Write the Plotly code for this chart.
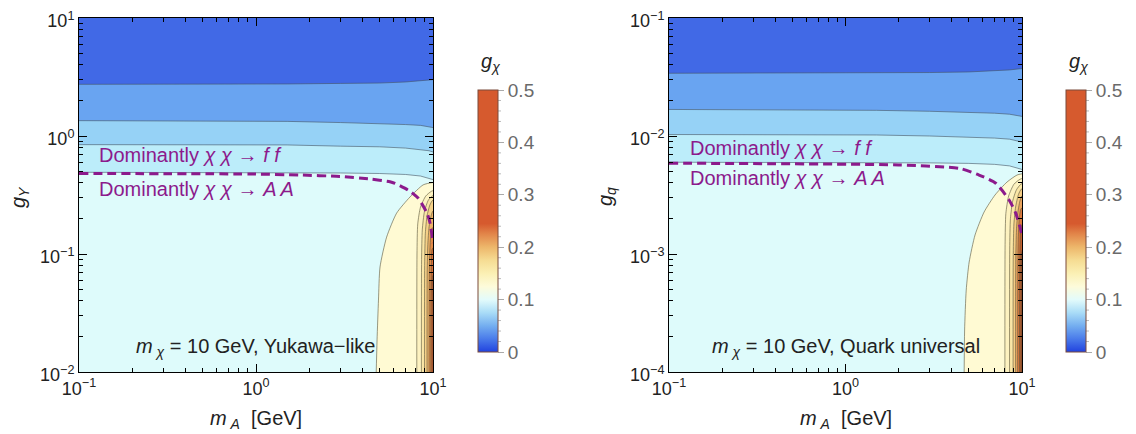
import plotly.graph_objects as go

# ---------------- data ----------------
# contour-band boundaries (horizontal bands), shared m_A samples
mA_band = [0.09, 0.5, 1.5, 3, 5, 7, 8.5, 9.5, 11]
# left panel (g_Y) boundaries, from top band downwards
gY_b1 = [2.74, 2.74, 2.76, 2.79, 2.81, 2.87, 2.93, 2.98, 3.04]
gY_b2 = [1.35, 1.34, 1.33, 1.30, 1.28, 1.25, 1.23, 1.19, 1.15]
gY_b3 = [0.845, 0.845, 0.84, 0.82, 0.81, 0.79, 0.77, 0.75, 0.70]
gY_b4 = [0.493, 0.493, 0.49, 0.486, 0.481, 0.472, 0.458, 0.44, 0.41]
# right panel (g_q) boundaries
gq_b1 = [0.0340, 0.0340, 0.0342, 0.0345, 0.0349, 0.0356, 0.0363, 0.0370, 0.0377]
gq_b2 = [0.0168, 0.0167, 0.0165, 0.0162, 0.0159, 0.0156, 0.0153, 0.0148, 0.0143]
gq_b3 = [0.0103, 0.0103, 0.0102, 0.0100, 0.0098, 0.0096, 0.0094, 0.0091, 0.0086]
gq_b4 = [0.0060, 0.0060, 0.00598, 0.00592, 0.00586, 0.00575, 0.00558, 0.00536, 0.0050]
band_colors = ["#BCEDFA", "#96D2F6", "#69A4F1", "#4169E6"]  # above b4, b3, b2, b1

# arch-shaped contours near m_A -> m_chi
L_arch_x = [
    [4.77, 4.83, 4.92, 5.02, 5.47, 6.23, 7.41, 8.79, 9.83, 10.5],
    [8.1, 8.12, 8.2, 8.5, 9.1, 9.8, 10.5],
    [8.6, 8.62, 8.7, 8.95, 9.4, 9.9, 10.5],
    [8.95, 8.97, 9.05, 9.25, 9.6, 9.95, 10.5],
    [9.25, 9.27, 9.35, 9.5, 9.75, 10.0, 10.5],
    [9.5, 9.52, 9.58, 9.7, 9.88, 10.5],
    [9.72, 9.74, 9.8, 9.9, 10.5],
    [9.88, 9.9, 9.95, 10.5],
]
L_arch_y = [
    [0.009, 0.0187, 0.0407, 0.0776, 0.139, 0.222, 0.304, 0.385, 0.402, 0.40],
    [0.009, 0.1, 0.18, 0.25, 0.31, 0.34, 0.348],
    [0.009, 0.09, 0.16, 0.23, 0.285, 0.31, 0.316],
    [0.009, 0.08, 0.15, 0.21, 0.26, 0.285, 0.29],
    [0.009, 0.07, 0.12, 0.17, 0.21, 0.232, 0.236],
    [0.009, 0.06, 0.1, 0.14, 0.165, 0.175],
    [0.009, 0.05, 0.085, 0.11, 0.12],
    [0.009, 0.04, 0.065, 0.073],
]
R_arch_x = [
    [4.70, 4.73, 4.83, 5.02, 5.42, 6.10, 7.03, 8.22, 9.37, 9.86, 10.5],
    [8.0, 8.02, 8.1, 8.4, 9.0, 9.75, 10.5],
    [8.5, 8.52, 8.6, 8.85, 9.3, 9.85, 10.5],
    [8.9, 8.92, 9.0, 9.2, 9.55, 9.92, 10.5],
    [9.2, 9.22, 9.3, 9.45, 9.72, 9.98, 10.5],
    [9.45, 9.47, 9.53, 9.65, 9.85, 10.5],
    [9.68, 9.7, 9.76, 9.88, 10.5],
    [9.86, 9.88, 9.93, 10.5],
]
R_arch_y = [
    [9e-5, 2.27e-4, 4.95e-4, 8.55e-4, 1.45e-3, 2.27e-3, 3.16e-3, 4.07e-3, 4.67e-3, 4.76e-3, 4.78e-3],
    [9e-5, 0.0012, 0.0022, 0.0031, 0.0039, 0.0043, 0.0044],
    [9e-5, 0.0011, 0.0020, 0.0028, 0.0035, 0.0039, 0.0040],
    [9e-5, 0.0010, 0.0018, 0.0025, 0.0032, 0.00355, 0.00362],
    [9e-5, 0.0009, 0.0016, 0.0022, 0.0028, 0.0031, 0.00316],
    [9e-5, 0.0008, 0.0014, 0.0020, 0.0024, 0.0026],
    [9e-5, 0.0007, 0.0012, 0.0017, 0.00194],
    [9e-5, 0.0005, 0.0010, 0.00132],
]
L_arch_colors = ["#FFFAD3", "#FDF2C0", "#FAE6A6", "#F5D088", "#EEB268", "#E48C48", "#D96C36", "#C9572B"]
R_arch_colors = ["#FFFAD3", "#FDF2C0", "#FAE6A6", "#F4CC84", "#EAA45E", "#DC7A3E", "#C4602F", "#A24E28"]

# dashed separation lines
L_dash_x = [0.1, 0.925, 1.77, 2.98, 4.41, 5.71, 6.10, 7.22, 8.23, 9.25, 9.62, 9.96, 10.0]
L_dash_y = [0.481, 0.476, 0.467, 0.454, 0.432, 0.410, 0.397, 0.348, 0.298, 0.222, 0.183, 0.131, 0.124]
R_dash_x = [0.1, 2.0, 4.41, 5.71, 7.1, 8.45, 9.2, 9.84, 10.0]
R_dash_y = [0.00588, 0.00568, 0.00532, 0.00467, 0.00398, 0.00287, 0.00223, 0.0016, 0.0014]

# colour bar
cbar_max = 0.5
cbar_minor = [0.02, 0.04, 0.06, 0.08, 0.12, 0.14, 0.16, 0.18, 0.22, 0.24, 0.26, 0.28,
              0.32, 0.34, 0.36, 0.38, 0.42, 0.44, 0.46, 0.48]
colorscale = [[0, "#2142DF"], [0.05, "#4A7BEA"], [0.1, "#74AEF0"], [0.15, "#A9DCF7"],
              [0.2, "#E3FBFB"], [0.25, "#FDFBDA"], [0.3, "#FBF0B4"], [0.35, "#F6DC93"],
              [0.4, "#EDB76B"], [0.45, "#E2864A"], [0.49, "#D65A2E"], [1, "#D65A2E"]]

# ---------------- figure ----------------
FONT = "Liberation Sans, Arial, sans-serif"
PURPLE = "#8C1A8C"
LINE = "rgba(70,85,100,0.6)"
ALINE = "rgba(90,85,60,0.6)"
OFF = 8                      # page body margin of the html page
W, H = 1136 - OFF, 434 - OFF
CB_TOP, CB_BOT = 90, 352     # colour-bar extent in window pixels


def px_x(X):  # window pixel -> paper fraction
    return (X - OFF) / W


def px_y(Y):
    return (H - (Y - OFF)) / H


fig = go.Figure()


def add_panel(xa, ya, bands, ytop, arch_x, arch_y, arch_cols, ybot, dx, dy):
    for b, col in zip(bands, band_colors):
        fig.add_trace(go.Scatter(
            x=mA_band + [mA_band[-1], mA_band[0]], y=b + [ytop, ytop],
            fill="toself", fillcolor=col, mode="lines", line=dict(color=LINE, width=1),
            xaxis=xa, yaxis=ya, hoverinfo="skip", showlegend=False))
    for ax_, ay_, col in zip(arch_x, arch_y, arch_cols):
        fig.add_trace(go.Scatter(
            x=ax_ + [ax_[-1]], y=ay_ + [ybot],
            fill="toself", fillcolor=col, mode="lines",
            line=dict(color=ALINE, width=1, shape="spline", smoothing=0.6),
            xaxis=xa, yaxis=ya, hoverinfo="skip", showlegend=False))
    fig.add_trace(go.Scatter(
        x=dx, y=dy, mode="lines",
        line=dict(color=PURPLE, width=3, dash="9px,5px", shape="spline", smoothing=0.6),
        xaxis=xa, yaxis=ya, hoverinfo="skip", showlegend=False))


add_panel("x", "y", [gY_b4, gY_b3, gY_b2, gY_b1], 20, L_arch_x, L_arch_y, L_arch_colors, 0.009,
          L_dash_x, L_dash_y)
add_panel("x2", "y2", [gq_b4, gq_b3, gq_b2, gq_b1], 0.2, R_arch_x, R_arch_y, R_arch_colors, 9e-5,
          R_dash_x, R_dash_y)

cb_common = dict(
    thickness=20, thicknessmode="pixels", len=(CB_BOT - CB_TOP) / H, lenmode="fraction",
    y=px_y(CB_TOP), yanchor="top", xanchor="left", xpad=0, ypad=0,
    tickmode="linear", tick0=0, dtick=0.1, tickformat=".1~f",
    ticks="outside", ticklen=6, tickcolor="#aaaaaa", tickwidth=1,
    tickfont=dict(family=FONT, size=19, color="#6a6a6a"),
    outlinewidth=1, outlinecolor="#7a4a3a",
)
shapes = []
for xa, ya, cbx in [("x", "y", 478), ("x2", "y2", 1066)]:
    fig.add_trace(go.Scatter(
        x=[None], y=[None], mode="markers", xaxis=xa, yaxis=ya,
        marker=dict(color=[0], cmin=0, cmax=cbar_max, colorscale=colorscale, opacity=0,
                    showscale=True, colorbar=dict(x=px_x(cbx), **cb_common)),
        hoverinfo="skip", showlegend=False))
    # minor ticks of the colour bar
    for v in cbar_minor:
        yy = CB_BOT - v / cbar_max * (CB_BOT - CB_TOP)
        shapes.append(dict(type="line", xref="paper", yref="paper",
                           x0=px_x(cbx + 20), x1=px_x(cbx + 23), y0=px_y(yy), y1=px_y(yy),
                           line=dict(color="#bbbbbb", width=1)))

xminor = [k * 10.0 ** e for e in (-1, 0) for k in range(2, 10)]
yminorL = [k * 10.0 ** e for e in (-2, -1, 0) for k in range(2, 10)]
yminorR = [k * 10.0 ** e for e in (-4, -3, -2) for k in range(2, 10)]


def axis(rng, tv, tt, minor_vals, domain, anchor, shift=0):
    return dict(type="log", range=rng, tickmode="array", tickvals=tv, ticktext=tt,
                ticks="inside", ticklen=8, tickcolor="black", tickwidth=1,
                showline=True, linecolor="black", linewidth=1, mirror="ticks",
                showgrid=False, zeroline=False, automargin=False, ticklabeloverflow="allow",
                ticklabelshift=shift,
                domain=domain, anchor=anchor,
                tickfont=dict(family=FONT, size=18, color="#222222"),
                minor=dict(tickmode="array", tickvals=minor_vals, ticks="inside", ticklen=4,
                           tickcolor="black", tickwidth=1, showgrid=False))


ydom = [px_y(372), px_y(18)]
xt = [0.1, 1, 10]
xtt = ["10<sup>−1</sup>", "10<sup>0</sup>", "10<sup>1</sup>"]
fig.update_layout(
    width=W, height=H, autosize=False,
    margin=dict(l=0, r=0, t=0, b=0, pad=0),
    paper_bgcolor="white", plot_bgcolor="#DEFBFB",
    font=dict(family=FONT, color="#222222"),
    xaxis=axis([-1, 1], xt, xtt, xminor, [px_x(79), px_x(433)], "y"),
    yaxis=axis([-2, 1], [0.01, 0.1, 1, 10],
               ["10<sup>−2</sup>", "10<sup>−1</sup>", "10<sup>0</sup>", "10<sup>1</sup>"],
               yminorL, ydom, "x", shift=3),
    xaxis2=axis([-1, 1], xt, xtt, xminor, [px_x(669), px_x(1022)], "y2"),
    yaxis2=axis([-4, -1], [1e-4, 1e-3, 1e-2, 1e-1],
                ["10<sup>−4</sup>", "10<sup>−3</sup>", "10<sup>−2</sup>", "10<sup>−1</sup>"],
                yminorR, ydom, "x2", shift=3),
    shapes=shapes,
)

ann_font = dict(family=FONT, size=20, color="#222222")
pf = dict(family=FONT, size=20, color=PURPLE)
gfont = dict(family=FONT, size=20, color="#222222")
anns = [
    # axis titles
    dict(text="<i>m</i><sub> <i>A</i></sub>  [GeV]", xref="x domain", yref="paper", x=0.5, y=px_y(419), font=ann_font),
    dict(text="<i>m</i><sub> <i>A</i></sub>  [GeV]", xref="x2 domain", yref="paper", x=0.5, y=px_y(419), font=ann_font),
    dict(text="<i>g</i><sub><i>Y</i></sub>", xref="paper", yref="paper", x=px_x(20), y=px_y(197),
         textangle=-90, font=gfont),
    dict(text="<i>g</i><sub><i>q</i></sub>", xref="paper", yref="paper", x=px_x(607), y=px_y(197),
         textangle=-90, font=gfont),
    # colour-bar titles
    dict(text="<i>g</i><sub><i>χ</i></sub>", xref="paper", yref="paper", x=px_x(490), y=px_y(62), font=gfont),
    dict(text="<i>g</i><sub><i>χ</i></sub>", xref="paper", yref="paper", x=px_x(1078), y=px_y(62), font=gfont),
    # panel labels
    dict(text="<i>m</i><sub> <i>χ</i></sub> = 10 GeV, Yukawa−like", xref="x domain", yref="y domain",
         x=0.5, y=0.068, font=ann_font),
    dict(text="<i>m</i><sub> <i>χ</i></sub> = 10 GeV, Quark universal", xref="x2 domain", yref="y2 domain",
         x=0.5, y=0.068, font=ann_font),
    # region labels
    dict(text="Dominantly <i>χ χ</i> → <i>f f</i>", xref="x domain", yref="y domain",
         x=0.0508, y=0.613, xanchor="left", font=pf),
    dict(text="Dominantly <i>χ χ</i> → <i>A A</i>", xref="x domain", yref="y domain",
         x=0.0508, y=0.517, xanchor="left", font=pf),
    dict(text="Dominantly <i>χ χ</i> → <i>f f</i>", xref="x2 domain", yref="y2 domain",
         x=0.0538, y=0.633, xanchor="left", font=pf),
    dict(text="Dominantly <i>χ χ</i> → <i>A A</i>", xref="x2 domain", yref="y2 domain",
         x=0.0538, y=0.549, xanchor="left", font=pf),
]
for a in anns:
    a.setdefault("showarrow", False)
    a.setdefault("xanchor", "center")
    a.setdefault("yanchor", "middle")
fig.update_layout(annotations=anns)

fig.write_html("out.html")
